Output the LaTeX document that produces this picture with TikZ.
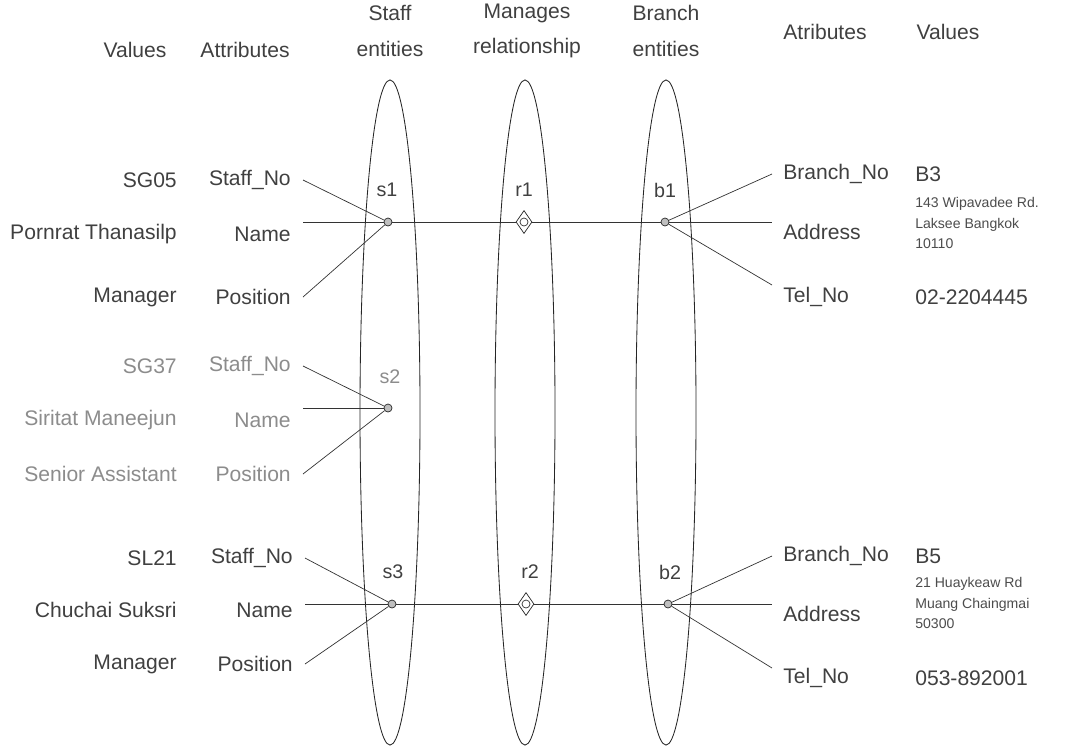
\documentclass[tikz,border=0pt]{standalone}
\usepackage{fontspec}
\setmainfont{Liberation Sans}
\usetikzlibrary{shapes.geometric,positioning}

\tikzset{
  setring/.style={draw=black!85,line width=0.6pt,ellipse,inner sep=0pt,
    minimum width=1.5cm,minimum height=16.625cm},
  entdot/.style={circle,draw=black!85,fill=black!25,inner sep=0pt,
    minimum size=0.2cm,line width=0.5pt},
  reldot/.style={diamond,draw=black!85,fill=white,inner sep=0pt,
    minimum width=0.4cm,minimum height=0.575cm,line width=0.5pt},
  link/.style={draw=black!80,line width=0.5pt},
  big/.style={font=\fontsize{15}{18}\selectfont,text=black!75},
  attl/.style={big,anchor=east,inner xsep=0.3cm,inner ysep=0pt},
  attr/.style={big,anchor=west,inner xsep=0.275cm,inner ysep=0pt},
  vall/.style={big,anchor=east,inner sep=0pt},
  valr/.style={big,anchor=west,inner sep=0pt},
  addr/.style={anchor=west,inner sep=0pt,align=left,text=black!70,
    font=\fontsize{10}{14.9}\selectfont},
  dotlbl/.style={font=\fontsize{14}{16}\selectfont,text=black!75},
  head/.style={big,align=center,font=\fontsize{15}{25}\selectfont},
  pale/.style={text=black!45}
}

\begin{document}
\begin{tikzpicture}[x=0.025cm,y=-0.025cm]
  \useasboundingbox (0,0) rectangle (1083,746);

  % headings
  \node[head] (hdvall)   at (135,50)  {Values};
  \node[head] (hdattl)   at (245,50)  {Attributes};
  \node[head] (hdstaff)  at (390,31)  {Staff\\entities};
  \node[head] (hdrel)    at (527,31)  {Manages\\relationship};
  \node[head] (hdbranch) at (666,31)  {Branch\\entities};
  \node[head] (hdattr)   at (825,32)  {Atributes};
  \node[head] (hdvalr)   at (948,32)  {Values};

  % the three sets
  \node[setring] (staffset)  at (390,412.5) {};
  \node[setring] (relset)    at (525,412.5) {};
  \node[setring] (branchset) at (666,412.5) {};

  % s1 - r1 - b1
  \node[entdot] (s1) at (388,222) {};
  \node[reldot] (r1) at (524,222) {};
  \draw[black!80,line width=0.5pt] (r1) circle (0.1cm);
  \node[entdot] (b1) at (665,222) {};
  \node[dotlbl] (s1l) at (387,190) {s1};
  \node[dotlbl] (r1l) at (524,190) {r1};
  \node[dotlbl] (b1l) at (665,190) {b1};

  \node[vall] (sgv1) at (177,180) {SG05};
  \node[vall] (nmv1) at (177,234) {Pornrat Thanasilp};
  \node[vall] (psv1) at (177,297) {Manager};
  \node[attl] (sga1) at (303,180) {Staff\_No};
  \node[attl] (nma1) at (303,234) {Name};
  \node[attl] (psa1) at (303,297) {Position};

  \node[attr] (bna1) at (772,174) {Branch\_No};
  \node[attr] (ada1) at (772,232) {Address};
  \node[attr] (tla1) at (772,297) {Tel\_No};
  \node[valr] (bnv1) at (915,174) {B3};
  \node[addr] (adv1) at (915,223) {143 Wipavadee Rd.\\Laksee Bangkok\\10110};
  \node[valr] (tlv1) at (915,297) {02-2204445};

  \draw[link] (sga1.east) -- (s1);
  \draw[link] (psa1.east) -- (s1);
  \draw[link] (nma1.east |- s1) -- (s1) -- (r1) -- (b1) -- (ada1.west |- b1);
  \draw[link] (b1) -- (bna1.west);
  \draw[link] (b1) -- ([yshift=0.3cm]tla1.west);

  % s2 (no branch)
  \node[entdot] (s2) at (388,408) {};
  \node[dotlbl,pale] (s2l) at (390,377) {s2};

  \node[vall,pale] (sgv2) at (177,366) {SG37};
  \node[vall,pale] (nmv2) at (177,420) {Siritat Maneejun};
  \node[vall,pale] (psv2) at (177,474) {Senior Assistant};
  \node[attl,pale] (sga2) at (303,366) {Staff\_No};
  \node[attl,pale] (nma2) at (303,420) {Name};
  \node[attl,pale] (psa2) at (303,474) {Position};

  \draw[link] (sga2.east) -- (s2);
  \draw[link] (nma2.east |- s2) -- (s2);
  \draw[link] (psa2.east) -- (s2);

  % s3 - r2 - b2
  \node[entdot] (s3) at (392,604) {};
  \node[reldot] (r2) at (526,604) {};
  \draw[black!80,line width=0.5pt] (r2) circle (0.1cm);
  \node[entdot] (b2) at (668,604) {};
  \node[dotlbl] (s3l) at (393,572) {s3};
  \node[dotlbl] (r2l) at (530,572) {r2};
  \node[dotlbl] (b2l) at (670,572) {b2};

  \node[vall] (sgv3) at (177,558) {SL21};
  \node[vall] (nmv3) at (177,610) {Chuchai Suksri};
  \node[vall] (psv3) at (177,664) {Manager};
  \node[attl] (sga3) at (305,558) {Staff\_No};
  \node[attl] (nma3) at (305,610) {Name};
  \node[attl] (psa3) at (305,664) {Position};

  \node[attr] (bna3) at (772,556) {Branch\_No};
  \node[attr] (ada3) at (772,614) {Address};
  \node[attr] (tla3) at (772,678) {Tel\_No};
  \node[valr] (bnv3) at (915,556) {B5};
  \node[addr] (adv3) at (915,603) {21 Huaykeaw Rd\\Muang Chaingmai\\50300};
  \node[valr] (tlv3) at (915,678) {053-892001};

  \draw[link] (sga3.east) -- (s3);
  \draw[link] (psa3.east) -- (s3);
  \draw[link] (nma3.east |- s3) -- (s3) -- (r2) -- (b2) -- (ada3.west |- b2);
  \draw[link] (b2) -- (bna3.west);
  \draw[link] (b2) -- ([yshift=0.25cm]tla3.west);
\end{tikzpicture}
\end{document}
